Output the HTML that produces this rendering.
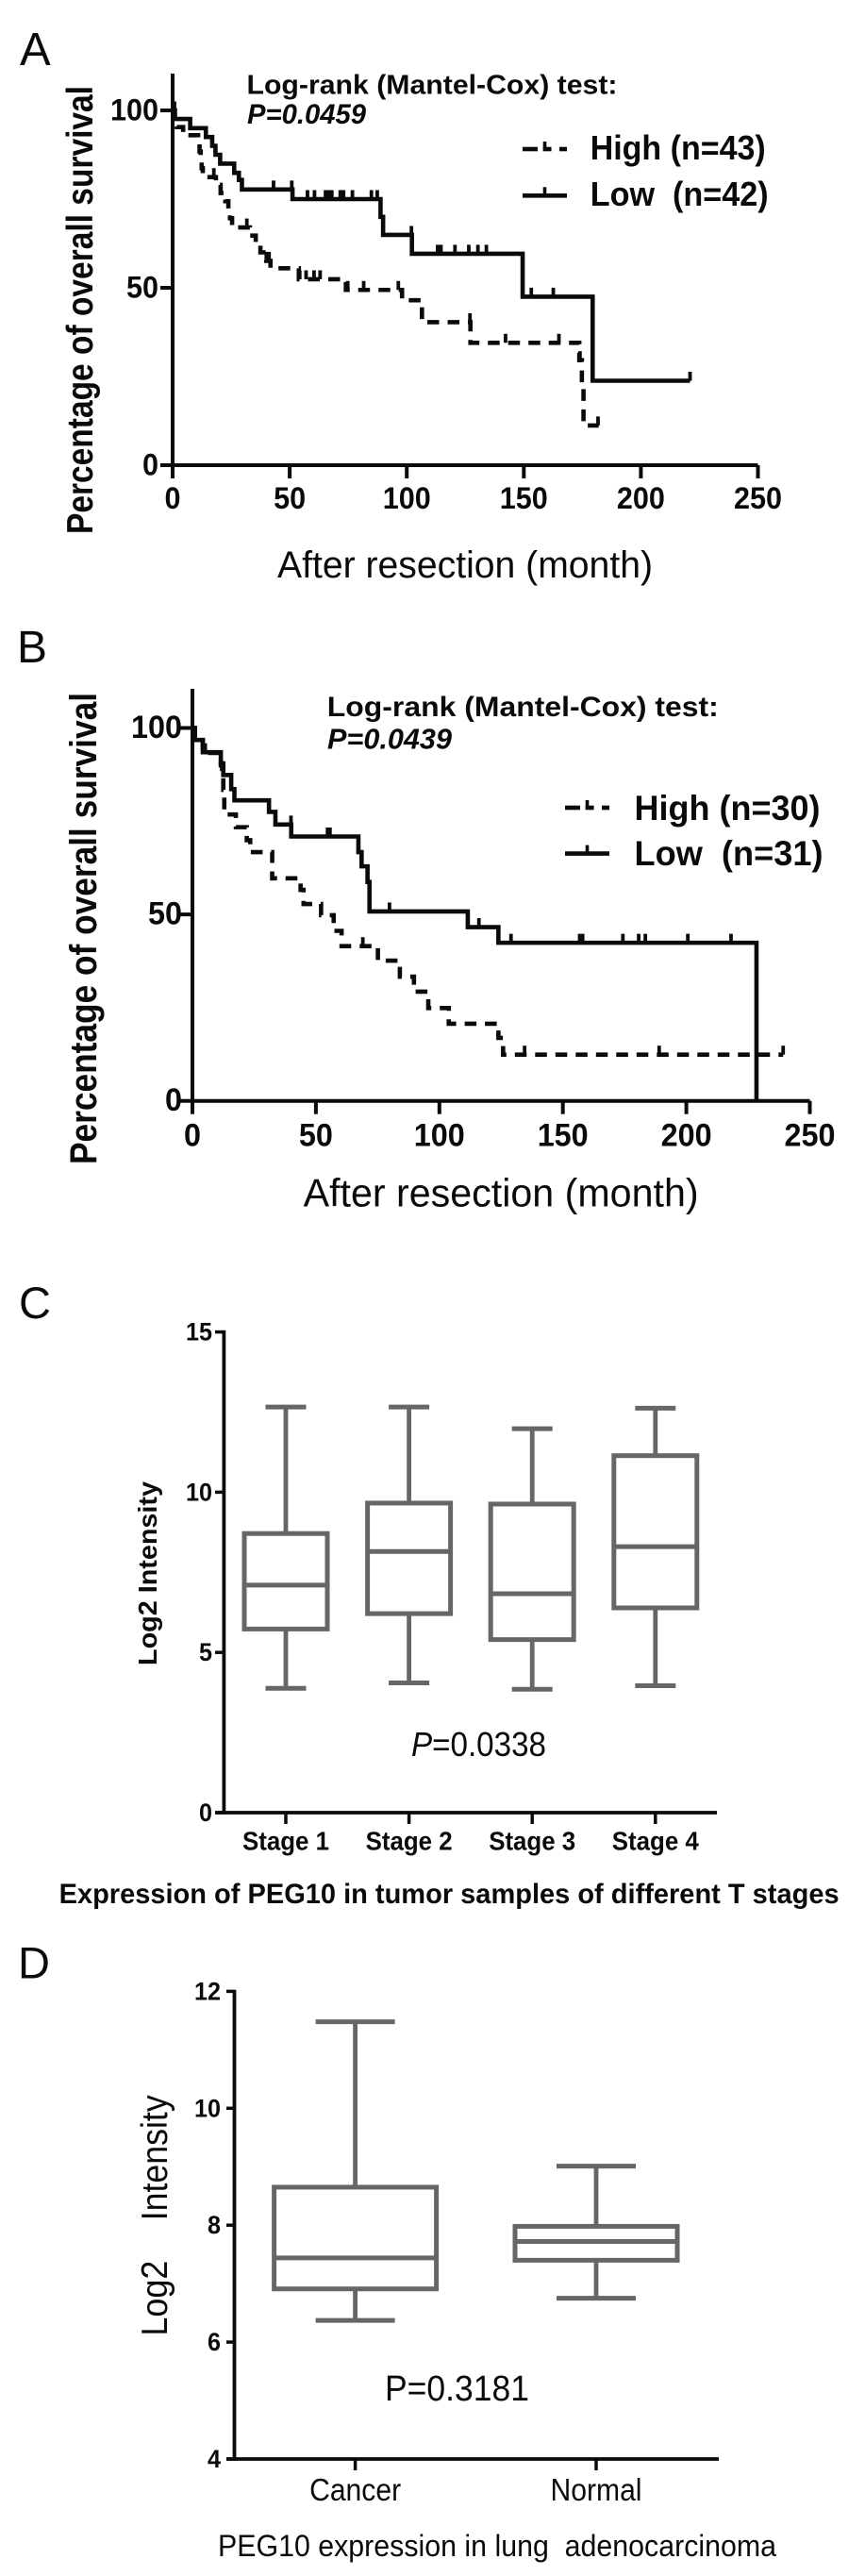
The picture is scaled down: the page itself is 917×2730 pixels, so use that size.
<!DOCTYPE html>
<html lang="en">
<head>
<meta charset="utf-8">
<title>PEG10 survival and expression charts</title>
<style>
html,body{margin:0;padding:0;background:#fff;}
svg{display:block;filter:blur(0.35px);}
text{font-family:"Liberation Sans",Arial,sans-serif;fill:#0a0a0a;white-space:pre;}
.b{font-weight:bold;}
</style>
</head>
<body>
<svg id="figure" xmlns="http://www.w3.org/2000/svg" width="917" height="2730" viewBox="0 0 917 2730">
<rect x="0" y="0" width="917" height="2730" fill="#fff"/>

<text x="21" y="69" font-size="49">A</text>
<text class="b" x="261.5" y="99.7" font-size="29" textLength="393" lengthAdjust="spacingAndGlyphs">Log-rank (Mantel-Cox) test:</text>
<text class="b" font-style="italic" x="262" y="131" font-size="30" textLength="126" lengthAdjust="spacingAndGlyphs">P=0.0459</text>
<text class="b" x="625.7" y="169" font-size="36" textLength="186" lengthAdjust="spacingAndGlyphs">High (n=43)</text>
<text class="b" x="625.7" y="218" font-size="36" textLength="189" lengthAdjust="spacingAndGlyphs">Low  (n=42)</text>
<text class="b" transform="translate(98,566) rotate(-90)" font-size="39" textLength="475" lengthAdjust="spacingAndGlyphs">Percentage of overall survival</text>
<text x="294" y="612" font-size="40" textLength="398" lengthAdjust="spacingAndGlyphs">After resection (month)</text>

<text x="18" y="702" font-size="48">B</text>
<text class="b" x="346.8" y="759" font-size="30" textLength="415" lengthAdjust="spacingAndGlyphs">Log-rank (Mantel-Cox) test:</text>
<text class="b" font-style="italic" x="347" y="793.6" font-size="31" textLength="132" lengthAdjust="spacingAndGlyphs">P=0.0439</text>
<text class="b" x="672.5" y="869" font-size="37" textLength="197" lengthAdjust="spacingAndGlyphs">High (n=30)</text>
<text class="b" x="672.5" y="917" font-size="37" textLength="200" lengthAdjust="spacingAndGlyphs">Low  (n=31)</text>
<text class="b" transform="translate(102,1234) rotate(-90)" font-size="40" textLength="500" lengthAdjust="spacingAndGlyphs">Percentage of overall survival</text>
<text x="321.6" y="1278.4" font-size="42" textLength="419" lengthAdjust="spacingAndGlyphs">After resection (month)</text>

<text x="20" y="1397" font-size="47">C</text>
<text class="b" transform="translate(166,1765) rotate(-90)" font-size="28" textLength="195" lengthAdjust="spacingAndGlyphs">Log2 Intensity</text>
<text x="436" y="1861" font-size="36" textLength="143" lengthAdjust="spacingAndGlyphs"><tspan font-style="italic">P</tspan>=0.0338</text>
<text class="b" x="62.6" y="2017" font-size="30" textLength="827" lengthAdjust="spacingAndGlyphs">Expression of PEG10 in tumor samples of different T stages</text>

<text x="19" y="2096.3" font-size="47">D</text>
<text transform="translate(177,2475.6) rotate(-90)" font-size="39" textLength="80" lengthAdjust="spacingAndGlyphs">Log2</text>
<text transform="translate(177,2353.3) rotate(-90)" font-size="39" textLength="133" lengthAdjust="spacingAndGlyphs">Intensity</text>
<text x="408" y="2544" font-size="38" textLength="153" lengthAdjust="spacingAndGlyphs">P=0.3181</text>
<text x="231" y="2709" font-size="32" textLength="592" lengthAdjust="spacingAndGlyphs">PEG10 expression in lung  adenocarcinoma</text>
</svg>

<script>
/* ---------- Panel A data ---------- */
var aXTicks = [0, 50, 100, 150, 200, 250];
var aYTicks = [0, 50, 100];
var aHighTimes = [0, 0.8, 1.8, 4.5, 10.9, 11.5, 12, 12.4, 12.9, 18.5, 20.5, 22.5, 23.8, 24.5, 25.4, 33, 35.5, 37.5, 40, 41.8, 53.9, 74, 98, 106.5, 127.2, 173.7, 174.8, 175.5];
var aHighSurvival = [100, 97.7, 95.3, 93, 90.7, 88.4, 86, 83.7, 81.2, 79, 76.7, 74.4, 72, 69.6, 67, 64.7, 62.3, 60, 57.6, 55.5, 52.4, 49.4, 46.5, 40.3, 34.5, 29.6, 22.7, 11.2];
var aHighEnd = 182;
var aHighCensored = [17.6, 31.7, 40, 41.2, 54.3, 57, 60.4, 63, 74.8, 81.6, 96.4, 127, 142.2, 165, 174, 181.7];
var aLowTimes = [0, 1, 7.5, 14.2, 16.9, 18.3, 20.3, 26.3, 28.3, 29.6, 51.2, 88.8, 89.9, 102.2, 149.5, 179.4];
var aLowSurvival = [100, 97.6, 95, 92.5, 90, 87.5, 85, 82.4, 80.4, 77.7, 75, 70, 64.9, 59.6, 47.5, 23.8];
var aLowEnd = 221;
var aLowCensored = [0.8, 43.1, 50.9, 57.6, 60.6, 65.3, 66.6, 68, 71.6, 73, 76.8, 84.9, 87.4, 102, 113.2, 114.6, 120.6, 126.5, 130.4, 134, 153.2, 162.6, 221];

/* ---------- Panel B data ---------- */
var bXTicks = [0, 50, 100, 150, 200, 250];
var bYTicks = [0, 50, 100];
var bHighTimes = [0, 1, 4.2, 11.5, 12, 12.5, 12.9, 17.6, 22, 23.4, 32.3, 43.8, 45, 52.1, 57.2, 60.4, 75.1, 84, 89.7, 95.5, 103.8, 123.9, 125.8];
var bHighSurvival = [100, 96.7, 93.3, 90, 86.7, 83.4, 76.8, 73.4, 69.9, 66.7, 59.7, 56.6, 52.8, 49.8, 45.6, 41.5, 37.6, 33.3, 29.3, 24.9, 20.7, 16.9, 12.4];
var bHighEnd = 239.2;
var bHighCensored = [69, 134.5, 189, 239.2];
var bLowTimes = [0, 1, 4.2, 11.5, 12.5, 15.7, 17, 31, 33.6, 40, 67.2, 68.5, 70.9, 71.7, 111.5, 123.9, 228.4];
var bLowSurvival = [100, 96.8, 93.5, 90.5, 87.4, 83.6, 80.6, 77.5, 74.1, 70.9, 66.7, 62.9, 58.7, 50.8, 46.6, 42.4, 0];
var bLowEnd = 228.4;
var bLowCensored = [5.2, 39.9, 54.7, 55.7, 79.8, 116, 129, 156.8, 158, 174.3, 180.7, 183.4, 200.6, 218.1];

/* ---------- Panel C data ---------- */
var cCategories = ["Stage 1", "Stage 2", "Stage 3", "Stage 4"];
var cYTicks = [0, 5, 10, 15];
var cMin = [3.88, 4.05, 3.85, 3.96];
var cQ1 = [5.73, 6.21, 5.40, 6.39];
var cMedian = [7.10, 8.15, 6.83, 8.30];
var cQ3 = [8.71, 9.66, 9.63, 11.14];
var cMax = [12.66, 12.66, 11.98, 12.62];

/* ---------- Panel D data ---------- */
var dCategories = ["Cancer", "Normal"];
var dYTicks = [4, 6, 8, 10, 12];
var dMin = [6.37, 6.75];
var dQ1 = [6.91, 7.40];
var dMedian = [7.44, 7.72];
var dQ3 = [8.65, 7.98];
var dMax = [11.48, 9.01];

var SVG_NS = "http://www.w3.org/2000/svg";
var figure = document.getElementById("figure");

function add(tag, attrs) {
  var node = document.createElementNS(SVG_NS, tag);
  for (var k in attrs) { node.setAttribute(k, attrs[k]); }
  figure.appendChild(node);
  return node;
}

function seg(x1, y1, x2, y2, color, width) {
  return add("line", {x1: x1, y1: y1, x2: x2, y2: y2, stroke: color, "stroke-width": width});
}

function linear(d0, d1, p0, p1) {
  return function (v) { return p0 + (v - d0) * (p1 - p0) / (d1 - d0); };
}

function drawAxes(prefix, xScale, yScale, xTicks, yTicks, yTop, xRight, tickLen, width, yDomainMin) {
  var base = yScale(yDomainMin);
  var yAxis = seg(xScale(xTicks[0]), yTop, xScale(xTicks[0]), base + width / 2, "#0a0a0a", width);
  
  
  var xAxis = seg(xScale(xTicks[0]) - width / 2, base, xRight, base, "#0a0a0a", width);
  
  
  yTicks.forEach(function (v) {
    var t = seg(xScale(xTicks[0]) - tickLen, yScale(v), xScale(xTicks[0]), yScale(v), "#0a0a0a", width);
    
    
  });
}

function stepPath(times, survival, end, xScale, yScale) {
  var d = "M" + xScale(times[0]) + " " + yScale(survival[0]);
  for (var i = 1; i < times.length; i++) {
    d += " H" + xScale(times[i]) + " V" + yScale(survival[i]);
  }
  d += " H" + xScale(end);
  return d;
}

function survivalAt(times, survival, t) {
  var s = survival[0];
  for (var i = 0; i < times.length; i++) { if (times[i] <= t) { s = survival[i]; } }
  return s;
}

function drawKM(prefix, series, times, survival, end, censored, dashed, xScale, yScale) {
  var path = add("path", {d: stepPath(times, survival, end, xScale, yScale), fill: "none", stroke: "#0a0a0a", "stroke-width": 4.6, "stroke-linejoin": "miter"});
  if (dashed) { path.setAttribute("stroke-dasharray", "12.5 9"); }
  
  
  censored.forEach(function (t) {
    var y = yScale(survivalAt(times, survival, t));
    var c = seg(xScale(t), y - 9.5, xScale(t), y, "#0a0a0a", 3.8);
    
    
  });
}

function legendLines(prefix, x0, x1, yHigh, yLow) {
  var w = x1 - x0;
  var pieces = [[0, 0.34], [0.46, 0.65], [0.83, 1]];
  pieces.forEach(function (p) {
    var dash = seg(x0 + w * p[0], yHigh, x0 + w * p[1], yHigh, "#0a0a0a", 4.6);
    
    
  });
  var hTick = seg(x0 + w * 0.5, yHigh - 8, x0 + w * 0.5, yHigh, "#0a0a0a", 3.6);
  
  
  var low = seg(x0, yLow, x1, yLow, "#0a0a0a", 4.6);
  
  
  var lTick = seg(x0 + w * 0.5, yLow - 9, x0 + w * 0.5, yLow, "#0a0a0a", 3.6);
  
  
}

function tickLabelsKM(prefix, xScale, yScale, xTicks, yTicks, size, digitWidth, baseLabelY, yRight, yOffset) {
  xTicks.forEach(function (v) {
    var m = seg(xScale(v), yScale(0), xScale(v), yScale(0) + 14, "#0a0a0a", 4);
    
    
    var t = add("text", {x: xScale(v), y: baseLabelY, "font-size": size, "text-anchor": "middle", "font-weight": "bold", textLength: String(v).length * digitWidth, lengthAdjust: "spacingAndGlyphs"});
    t.textContent = String(v);
    
    
  });
  yTicks.forEach(function (v) {
    var t = add("text", {x: yRight, y: yScale(v) + yOffset, "font-size": size, "text-anchor": "end", "font-weight": "bold", textLength: String(v).length * digitWidth, lengthAdjust: "spacingAndGlyphs"});
    t.textContent = String(v);
    
    
  });
}

/* Panel A */
var axA = linear(0, 250, 183, 803.5);
var ayA = linear(0, 100, 493, 117);
drawAxes("panel-a", axA, ayA, aXTicks, aYTicks, 78, 803.5, 13, 4, 0);
tickLabelsKM("panel-a", axA, ayA, aXTicks, aYTicks, 32, 17, 539, 168, 10.5);
drawKM("panel-a", "high", aHighTimes, aHighSurvival, aHighEnd, aHighCensored, true, axA, ayA);
drawKM("panel-a", "low", aLowTimes, aLowSurvival, aLowEnd, aLowCensored, false, axA, ayA);
legendLines("panel-a", 554, 601, 158, 207.3);

/* Panel B */
var axB = linear(0, 250, 204, 858.5);
var ayB = linear(0, 100, 1166.7, 771.5);
drawAxes("panel-b", axB, ayB, bXTicks, bYTicks, 730, 858.5, 13, 4, 0);
tickLabelsKM("panel-b", axB, ayB, bXTicks, bYTicks, 34, 18, 1214.7, 193, 10.5);
drawKM("panel-b", "high", bHighTimes, bHighSurvival, bHighEnd, bHighCensored, true, axB, ayB);
drawKM("panel-b", "low", bLowTimes, bLowSurvival, bLowEnd, bLowCensored, false, axB, ayB);
legendLines("panel-b", 599, 646, 856, 904.6);

/* Box plots */
function drawBoxes(prefix, categories, mins, q1s, medians, q3s, maxs, yScale, xCenter, halfBox, halfCap, base, labelY, labelSize, labelBold, labelWidth) {
  categories.forEach(function (name, i) {
    var cx = xCenter(i);
    var tick = seg(cx, base, cx, base + 12, "#0a0a0a", 3.5);
    
    

    var upper = seg(cx, yScale(q3s[i]), cx, yScale(maxs[i]), "#666", 4.8);
    
    
    var lower = seg(cx, yScale(q1s[i]), cx, yScale(mins[i]), "#666", 4.8);
    
    
    var capTop = seg(cx - halfCap, yScale(maxs[i]), cx + halfCap, yScale(maxs[i]), "#666", 5);
    
    
    var capBottom = seg(cx - halfCap, yScale(mins[i]), cx + halfCap, yScale(mins[i]), "#666", 5);
    
    

    var box = add("rect", {x: cx - halfBox, y: yScale(q3s[i]), width: halfBox * 2, height: yScale(q1s[i]) - yScale(q3s[i]), fill: "#fff", stroke: "#666", "stroke-width": 5});
    
    
    var med = seg(cx - halfBox, yScale(medians[i]), cx + halfBox, yScale(medians[i]), "#666", 5);
    
    

    var lab = add("text", {x: cx, y: labelY, "font-size": labelSize, "text-anchor": "middle", textLength: labelWidth, lengthAdjust: "spacingAndGlyphs"});
    if (labelBold) { lab.setAttribute("font-weight", "bold"); }
    lab.textContent = name;
    
    
  });
}

function boxYTicks(prefix, yTicks, yScale, axisX, tickLen, labelRight, size, digitWidth, offset) {
  yTicks.forEach(function (v) {
    var t = seg(axisX - tickLen, yScale(v), axisX, yScale(v), "#0a0a0a", 3.5);
    
    
    var l = add("text", {x: labelRight, y: yScale(v) + offset, "font-size": size, "font-weight": "bold", "text-anchor": "end", textLength: String(v).length * digitWidth, lengthAdjust: "spacingAndGlyphs"});
    l.textContent = String(v);
    
    
  });
}

/* Panel C */
var ayC = linear(0, 15, 1921, 1411.6);
var cyAxis = seg(237.4, ayC(15) - 1.7, 237.4, ayC(0) + 1.7, "#0a0a0a", 3.8);


var cxAxis = seg(228, ayC(0), 760, ayC(0), "#0a0a0a", 3.8);


boxYTicks("panel-c", cYTicks, ayC, 237.4, 9.4, 225, 27, 14, 9);
drawBoxes("panel-c", cCategories, cMin, cQ1, cMedian, cQ3, cMax, ayC, function (i) { return 303 + i * 130.6; }, 44, 21.5, ayC(0), 1960.6, 28, true, 92);

/* Panel D */
var ayD = linear(4, 12, 2606, 2110.4);
var dyAxis = seg(248.5, ayD(12) - 1.7, 248.5, ayD(4) + 1.7, "#0a0a0a", 3.8);


var dxAxis = seg(240, ayD(4), 762, ayD(4), "#0a0a0a", 3.8);


boxYTicks("panel-d", dYTicks, ayD, 248.5, 8.5, 234, 27, 14, 9);
drawBoxes("panel-d", dCategories, dMin, dQ1, dMedian, dQ3, dMax, ayD, function (i) { return 376.6 + i * 255.4; }, 86, 42, ayD(4), 2650, 33, false, 97);
</script>
</body>
</html>
